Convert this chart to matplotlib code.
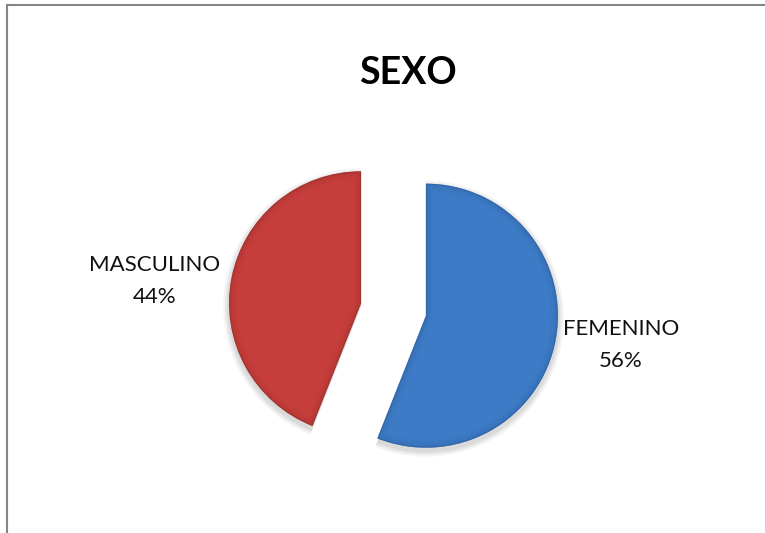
import matplotlib.pyplot as plt
from matplotlib.patches import Wedge
from matplotlib.lines import Line2D

categorias = ['FEMENINO', 'MASCULINO']
porcentajes = [56, 44]
colores = ['#3D7BC6', '#C63E3B']
bordes = ['#24508A', '#7E2422']

plt.rcParams['font.family'] = ['Lato', 'DejaVu Sans']

fig = plt.figure(figsize=(7.65, 5.33), dpi=100)
ax = fig.add_axes([0, 0, 1, 1])

etiquetas = [f"{c}\n{p}%" for c, p in zip(categorias, porcentajes)]
cuñas, textos = ax.pie(porcentajes, labels=etiquetas, colors=colores,
                       startangle=90, counterclock=False, explode=[33, 33],
                       center=(393.5, 223.5), radius=132, labeldistance=1.5,
                       textprops={'fontsize': 16, 'color': '#111111'},
                       frame=True)
ax.set_xlim(0, 765)
ax.set_ylim(0, 533)
ax.set_aspect('equal')
ax.axis('off')

for cu, b in zip(cuñas, bordes):
    cu.set_edgecolor('none')
    cu.set_zorder(2)
    # sombra suave
    for k, a in [(6, 0.04), (4, 0.05), (2, 0.06)]:
        sombra = Wedge((cu.center[0], cu.center[1] - 3), cu.r + k, cu.theta1, cu.theta2,
                       facecolor='black', edgecolor='none', alpha=a, zorder=1)
        ax.add_patch(sombra)
    # borde oscuro tipo bisel
    for w, a in [(10, 0.06), (6, 0.08), (3, 0.12), (1.2, 0.35)]:
        bis = Wedge(cu.center, cu.r, cu.theta1, cu.theta2, fill=False,
                    edgecolor=b, linewidth=w, alpha=a, zorder=3)
        ax.add_patch(bis)
        bis.set_clip_path(cu)

# posicion de etiquetas (pixeles, como en excel "ajuste perfecto")
pos_etiquetas = [(621, 533 - 345), (155, 533 - 281)]
for t, p in zip(textos, pos_etiquetas):
    t.set_position(p)
    t.set_ha('center')
    t.set_va('center')
    t.set_linespacing(1.7)

ax.text(408, 533 - 73, 'SEXO', ha='center', va='center', fontsize=27, fontweight='bold')

fig.add_artist(Line2D([7 / 765, 7 / 765], [0, 1 - 5 / 533], transform=fig.transFigure,
                      color='#868686', linewidth=1.5))
fig.add_artist(Line2D([7 / 765, 1], [1 - 5 / 533, 1 - 5 / 533], transform=fig.transFigure,
                      color='#868686', linewidth=1.5))

fig.savefig('out.png', dpi=100)
